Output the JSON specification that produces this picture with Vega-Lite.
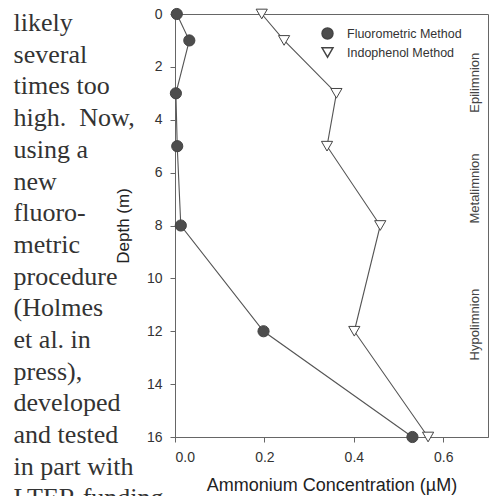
{
  "$schema": "https://vega.github.io/schema/vega-lite/v6.json",
  "width": 313,
  "height": 423,
  "autosize": {"type": "none"},
  "padding": {"left": 175, "top": 14, "right": 12, "bottom": 59},
  "background": "white",
  "config": {
    "view": {"stroke": "#666", "strokeWidth": 1},
    "font": "Liberation Sans",
    "axis": {
      "labelFont": "Liberation Sans",
      "labelFontSize": 14,
      "labelColor": "#333",
      "titleFont": "Liberation Sans",
      "titleFontWeight": "normal",
      "titleColor": "#222",
      "domainColor": "#666",
      "tickColor": "#666",
      "tickSize": 5,
      "grid": false
    },
    "legend": {
      "labelFont": "Liberation Sans",
      "labelFontSize": 12.5,
      "labelColor": "#333",
      "symbolSize": 120,
      "rowPadding": 2,
      "labelOffset": 13
    }
  },
  "title": {
    "text": "July 1999",
    "font": "Liberation Sans",
    "fontSize": 19,
    "fontWeight": "normal",
    "color": "#333",
    "baseline": "alphabetic",
    "offset": 10,
    "anchor": "middle"
  },
  "datasets": {
    "profiles": [
      {"method": "Fluorometric Method", "depth": 0, "conc": 0.004},
      {"method": "Fluorometric Method", "depth": 1, "conc": 0.032},
      {"method": "Fluorometric Method", "depth": 3, "conc": 0.002},
      {"method": "Fluorometric Method", "depth": 5, "conc": 0.005},
      {"method": "Fluorometric Method", "depth": 8, "conc": 0.013},
      {"method": "Fluorometric Method", "depth": 12, "conc": 0.198},
      {"method": "Fluorometric Method", "depth": 16, "conc": 0.531},
      {"method": "Indophenol Method", "depth": 0, "conc": 0.194},
      {"method": "Indophenol Method", "depth": 1, "conc": 0.244},
      {"method": "Indophenol Method", "depth": 3, "conc": 0.361},
      {"method": "Indophenol Method", "depth": 5, "conc": 0.34},
      {"method": "Indophenol Method", "depth": 8, "conc": 0.459},
      {"method": "Indophenol Method", "depth": 12, "conc": 0.401},
      {"method": "Indophenol Method", "depth": 16, "conc": 0.566}
    ],
    "zones": [
      {"zone": "Epilimnion", "depth": 2.6},
      {"zone": "Metalimnion", "depth": 6.6},
      {"zone": "Hypolimnion", "depth": 11.75}
    ],
    "body": [
      {"line": -1, "text": "values were"},
      {"line": 0, "text": "likely"},
      {"line": 1, "text": "several"},
      {"line": 2, "text": "times too"},
      {"line": 3, "text": "high.\u00a0 Now,"},
      {"line": 4, "text": "using a"},
      {"line": 5, "text": "new"},
      {"line": 6, "text": "fluoro-"},
      {"line": 7, "text": "metric"},
      {"line": 8, "text": "procedure"},
      {"line": 9, "text": "(Holmes"},
      {"line": 10, "text": "et al. in"},
      {"line": 11, "text": "press),"},
      {"line": 12, "text": "developed"},
      {"line": 13, "text": "and tested"},
      {"line": 14, "text": "in part with"},
      {"line": 15, "text": "LTER funding"}
    ]
  },
  "layer": [
    {
      "data": {"name": "profiles"},
      "mark": {"type": "line", "color": "#555", "strokeWidth": 1.1},
      "encoding": {
        "x": {
          "field": "conc", "type": "quantitative",
          "scale": {"domain": [0, 0.7], "nice": false, "zero": false},
          "axis": {"values": [0, 0.2, 0.4, 0.6], "format": ".1f", "labelPadding": 8, "title": "Ammonium Concentration (µM)", "titleFontSize": 18, "titlePadding": 12}
        },
        "y": {
          "field": "depth", "type": "quantitative",
          "scale": {"domain": [0, 16], "reverse": true, "nice": false, "zero": false},
          "axis": {"values": [0, 2, 4, 6, 8, 10, 12, 14, 16], "labelPadding": 8, "title": "Depth (m)", "titleFontSize": 17, "titlePadding": 14}
        },
        "detail": {"field": "method", "type": "nominal"},
        "order": {"field": "depth", "type": "quantitative"}
      }
    },
    {
      "data": {"name": "profiles"},
      "mark": {"type": "point", "filled": true, "size": 125, "stroke": "#444", "strokeWidth": 1, "opacity": 1},
      "encoding": {
        "x": {"field": "conc", "type": "quantitative", "scale": {"domain": [0, 0.7], "nice": false, "zero": false}},
        "y": {"field": "depth", "type": "quantitative", "scale": {"domain": [0, 16], "reverse": true, "nice": false, "zero": false}, "axis": null},
        "shape": {
          "field": "method", "type": "nominal",
          "scale": {"domain": ["Fluorometric Method", "Indophenol Method"], "range": ["circle", "triangle-down"]},
          "legend": {
            "title": null, "orient": "none", "legendX": 146, "legendY": 13,
            "encode": {"symbols": {"update": {"fill": {"scale": "fill", "field": "value"}, "stroke": {"value": "#444"}, "strokeWidth": {"value": 1}, "opacity": {"value": 1}}}}
          }
        },
        "fill": {
          "field": "method", "type": "nominal",
          "scale": {"domain": ["Fluorometric Method", "Indophenol Method"], "range": ["#4d4d4d", "#ffffff"]},
          "legend": null
        }
      }
    },
    {
      "data": {"name": "zones"},
      "mark": {"type": "text", "angle": 270, "fontSize": 13, "color": "#444", "font": "Liberation Sans"},
      "encoding": {
        "x": {"datum": 0.67, "type": "quantitative", "scale": {"domain": [0, 0.7], "nice": false, "zero": false}},
        "y": {"field": "depth", "type": "quantitative", "scale": {"domain": [0, 16], "reverse": true, "nice": false, "zero": false}, "axis": null},
        "text": {"field": "zone"}
      }
    },
    {
      "data": {"name": "body"},
      "mark": {"type": "text", "align": "left", "baseline": "middle", "font": "Liberation Serif", "fontSize": 26, "color": "#333"},
      "encoding": {
        "x": {"datum": -0.361, "type": "quantitative", "scale": {"domain": [0, 0.7], "nice": false, "zero": false}},
        "y": {"field": "line", "type": "quantitative", "scale": {"domain": [-0.284, 13.06], "reverse": true, "nice": false, "zero": false}, "axis": null},
        "text": {"field": "text"}
      }
    }
  ],
  "resolve": {"scale": {"y": "independent"}}
}
